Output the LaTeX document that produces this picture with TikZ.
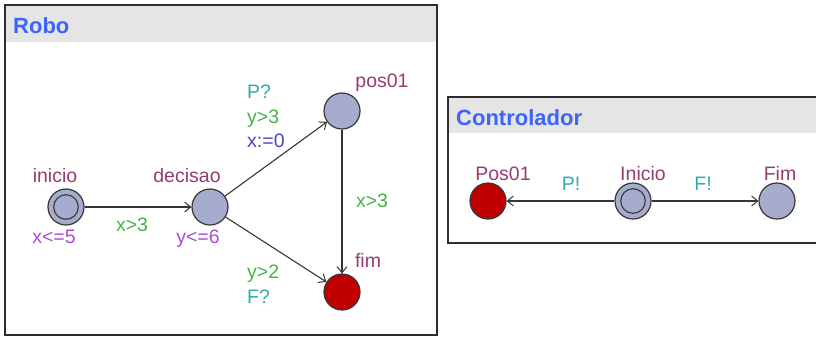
\documentclass[tikz,border=0pt]{standalone}
\usepackage{fontspec}
\setmainfont{Liberation Sans}
\usetikzlibrary{arrows.meta}

\definecolor{locfill}{RGB}{165,172,205}
\definecolor{locred}{RGB}{192,0,0}
\definecolor{locline}{RGB}{55,55,55}
\definecolor{edgecol}{RGB}{55,55,55}
\definecolor{boxline}{RGB}{45,45,45}
\definecolor{headgray}{RGB}{229,229,229}
\definecolor{titleblue}{RGB}{60,100,255}
\definecolor{namecol}{RGB}{150,60,110}
\definecolor{invcol}{RGB}{175,75,205}
\definecolor{guardcol}{RGB}{70,180,70}
\definecolor{synccol}{RGB}{50,170,170}
\definecolor{assigncol}{RGB}{70,70,200}

\tikzset{
  loc/.style={circle, draw=locline, fill=locfill, line width=1.2pt,
    minimum size=36pt, inner sep=0pt},
  redloc/.style={loc, fill=locred},
  initloc/.style={loc, path picture={
      \draw[locline, line width=1.1pt]
        (path picture bounding box.center) circle (12.3pt);}},
  trans/.style={draw=edgecol, line width=1.1pt,
    -{Straight Barb[length=6pt,width=10pt,line width=1pt]}},
  lbl/.style={font=\fontsize{19.5}{22}\selectfont, inner sep=0pt},
  locname/.style={lbl, text=namecol, anchor=base},
  invlbl/.style={lbl, text=invcol, anchor=base},
  guardlbl/.style={lbl, text=guardcol},
  synclbl/.style={lbl, text=synccol},
  assignlbl/.style={lbl, text=assigncol},
  tmpltitle/.style={font=\bfseries\fontsize{22}{24}\selectfont, text=titleblue,
    inner sep=0pt, anchor=base west},
}

\begin{document}
\begin{tikzpicture}[x=1pt,y=-1pt]
\useasboundingbox (0,0) rectangle (816,338);
\clip (0,0) rectangle (816,338);

% template frame: Robo
\fill[white] (5,5) rectangle (437,335);
\fill[headgray] (6,6) rectangle (436,42);
\draw[boxline, line width=2pt] (5,5) rectangle (437,335);
\node[tmpltitle] (robotitle) at (13,33) {Robo};

% template frame: Controlador
\fill[white] (448,97) rectangle (830,243);
\fill[headgray] (449,98) rectangle (830,133);
\draw[boxline, line width=2pt] (448,97) rectangle (830,243);
\node[tmpltitle] (ctrltitle) at (456,125) {Controlador};

% Robo locations
\node[initloc] (inicio) at (66,207) {};
\node[loc] (decisao) at (210,207) {};
\node[loc] (pos01) at (342,111) {};
\node[redloc] (fim) at (342,292) {};

\node[locname] (ninicio) at (55,182) {inicio};
\node[locname] (ndecisao) at (187,182) {decisao};
\node[locname] (npos01) at (382,87) {pos01};
\node[locname] (nfim) at (368,267) {fim};
\node[invlbl] (iinicio) at (54,243) {x<=5};
\node[invlbl] (idecisao) at (198,243) {y<=6};

% Robo transitions
\draw[trans] (inicio) -- (decisao);
\draw[trans] (decisao) -- (pos01);
\draw[trans] (decisao) -- (fim);
\draw[trans] (pos01) -- (fim);

\node[guardlbl, anchor=base] (g1) at (132,231) {x>3};
\node[synclbl, anchor=base west] (s2) at (247,98) {P?};
\node[guardlbl, anchor=base west] (g2) at (247,123) {y>3};
\node[assignlbl, anchor=base west] (a2) at (247,147) {x:=0};
\node[guardlbl, anchor=base] (g3) at (372,207) {x>3};
\node[guardlbl, anchor=base west] (g4) at (247,278) {y>2};
\node[synclbl, anchor=base west] (s4) at (247,303) {F?};

% Controlador locations
\node[redloc] (cpos01) at (488,201) {};
\node[initloc] (cinicio) at (633,201) {};
\node[loc] (cfim) at (777,201) {};

\node[locname] (ncpos01) at (503,180) {Pos01};
\node[locname] (ncinicio) at (643,180) {Inicio};
\node[locname] (ncfim) at (780,180) {Fim};

% Controlador transitions
\draw[trans] (cinicio) -- (cpos01);
\draw[trans] (cinicio) -- (cfim);
\node[synclbl, anchor=base] (cs1) at (571,190) {P!};
\node[synclbl, anchor=base] (cs2) at (703,190) {F!};
\end{tikzpicture}
\end{document}
